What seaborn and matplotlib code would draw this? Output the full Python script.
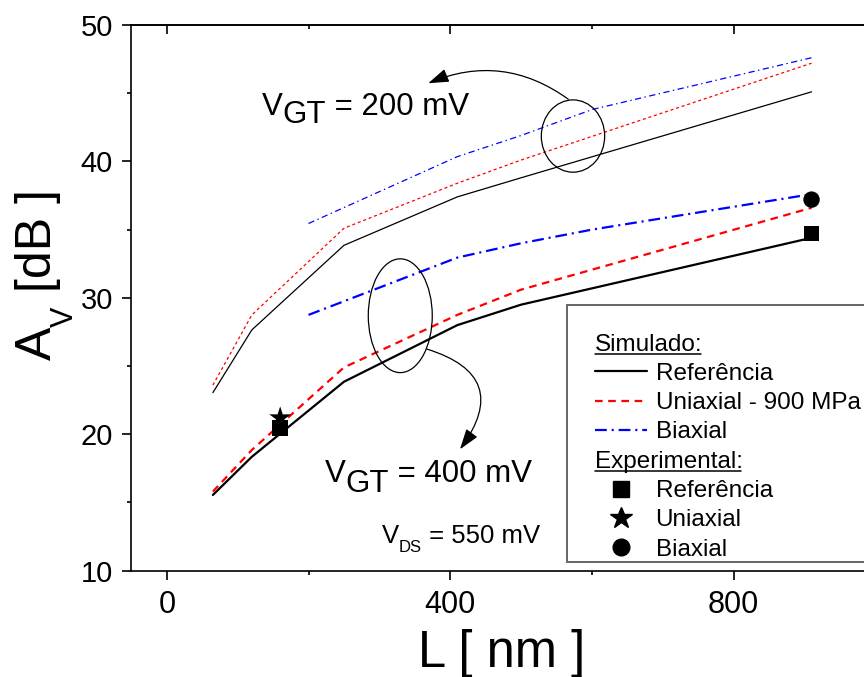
import numpy as np
import pandas as pd
import matplotlib
matplotlib.use("Agg")
import matplotlib.pyplot as plt
import seaborn as sns
from matplotlib.patches import Ellipse, Rectangle
from matplotlib.lines import Line2D
from matplotlib.text import Text
from matplotlib.legend_handler import HandlerBase
from matplotlib.textpath import TextPath
from matplotlib.font_manager import FontProperties

# ---------------- data ----------------
# V_GT = 400 mV (thick lines)
L_ref_400 = [65, 120, 250, 410, 500, 910]
Av_ref_400 = [15.55, 18.35, 23.85, 28.0, 29.5, 34.4]
L_uni_400 = [65, 120, 250, 410, 500, 910]
Av_uni_400 = [15.8, 18.85, 24.9, 28.75, 30.6, 36.6]
L_bi_400 = [200, 410, 500, 600, 910]
Av_bi_400 = [28.75, 32.95, 34.0, 35.0, 37.6]
# V_GT = 200 mV (thin lines)
L_ref_200 = [65, 120, 250, 410, 500, 910]
Av_ref_200 = [23.05, 27.65, 33.85, 37.4, 38.8, 45.1]
L_uni_200 = [65, 120, 250, 410, 500, 910]
Av_uni_200 = [23.6, 28.75, 35.1, 38.4, 40.1, 47.2]
L_bi_200 = [200, 410, 500, 600, 910]
Av_bi_200 = [35.45, 40.35, 41.9, 43.8, 47.6]
# experimental
L_exp_ref = [160, 910]
Av_exp_ref = [20.45, 34.7]
L_exp_uni = [160]
Av_exp_uni = [21.2]
L_exp_bi = [910]
Av_exp_bi = [37.2]

x_ticks = [0, 400, 800]
x_minor = [200, 600]
y_ticks = [10, 20, 30, 40, 50]
y_minor = [15, 25, 35, 45]

# ---------------- style ----------------
sns.set_style("ticks")
FONT = "Liberation Sans"
plt.rcParams["font.family"] = [FONT, "DejaVu Sans"]
plt.rcParams["lines.scale_dashes"] = False
for k in ["text.color", "axes.labelcolor", "xtick.color", "ytick.color",
          "xtick.labelcolor", "ytick.labelcolor", "axes.edgecolor", "legend.labelcolor"]:
    plt.rcParams[k] = "black"

W, H = 864, 677
fig = plt.figure(figsize=(W / 100, H / 100), dpi=100)
ax_l, ax_r, ax_t, ax_b = 131.4, 875.3, 25.0, 570.7
ax = fig.add_axes([ax_l / W, 1 - ax_b / H, (ax_r - ax_l) / W, (ax_b - ax_t) / H])

RED = "#FF0000"
BLUE = "#0000FF"
ls_red_thick = (0, (5.5, 4.0))
ls_blue_thick = (0, (8.5, 3.5, 1.5, 3.5))
ls_red_thin = (0, (2.2, 2.0))
ls_blue_thin = (0, (4.5, 2.5, 1.0, 2.5))

# thin lines (V_GT = 200 mV)
sns.lineplot(x=L_ref_200, y=Av_ref_200, color="black", linewidth=0.9, ax=ax)
sns.lineplot(x=L_uni_200, y=Av_uni_200, color=RED, linewidth=0.9, linestyle=ls_red_thin, ax=ax)
sns.lineplot(x=L_bi_200, y=Av_bi_200, color=BLUE, linewidth=0.9, linestyle=ls_blue_thin, ax=ax)
# thick lines (V_GT = 400 mV)
sns.lineplot(x=L_ref_400, y=Av_ref_400, color="black", linewidth=1.6, ax=ax)
sns.lineplot(x=L_uni_400, y=Av_uni_400, color=RED, linewidth=1.6, linestyle=ls_red_thick, ax=ax)
sns.lineplot(x=L_bi_400, y=Av_bi_400, color=BLUE, linewidth=1.6, linestyle=ls_blue_thick, ax=ax)

# experimental points
sns.scatterplot(x=L_exp_uni, y=Av_exp_uni, marker="*", s=275, color="black", edgecolor="none", ax=ax, zorder=5)
sns.scatterplot(x=L_exp_ref, y=Av_exp_ref, marker="s", s=125, color="black", edgecolor="none", ax=ax, zorder=5)
sns.scatterplot(x=L_exp_bi, y=Av_exp_bi, marker="o", s=140, color="black", edgecolor="none", ax=ax, zorder=5)

# ---------------- axes ----------------
ax.set_xlim(-50, 1000)
ax.set_ylim(10, 50)
ax.set_xticks(x_ticks)
ax.set_xticks(x_minor, minor=True)
ax.set_yticks(y_ticks)
ax.set_yticks(y_minor, minor=True)
ax.set_xlabel("")
ax.set_ylabel("")
for sp in ax.spines.values():
    sp.set_visible(True)
    sp.set_linewidth(1.2)
    sp.set_color("black")
ax.tick_params(axis="y", which="major", direction="out", length=6.7, width=1.2, labelsize=21, pad=6.5,
               colors="black", labelcolor="black")
ax.tick_params(axis="y", which="minor", direction="out", length=3.2, width=1.2, colors="black")
ax.tick_params(axis="x", which="major", direction="out", length=6.7, width=1.2, labelsize=22, pad=7.5,
               colors="black", labelcolor="black")
ax.tick_params(axis="x", which="minor", direction="out", length=3.2, width=1.2, colors="black")
ax.tick_params(top=False, right=False, which="both")

sec = ax.secondary_xaxis("top")
sec.set_xticks(x_ticks)
sec.set_xticks(x_minor, minor=True)
sec.tick_params(axis="x", which="major", direction="in", length=6.7, width=1.2, labeltop=False, colors="black")
sec.tick_params(axis="x", which="minor", direction="in", length=3.2, width=1.2, colors="black")
sec.spines["top"].set_linewidth(1.2)
sec.spines["top"].set_color("black")

# ---------------- axis labels ----------------
fig.text(502 / W, 1 - 667.0 / H, "L [ nm ]", ha="center", va="baseline", fontsize=36.5, color="black")

tA = fig.text(61 / W, 1 - 360 / H, "A", rotation=90, ha="right", va="bottom", fontsize=36, color="black")
tV = ax.annotate("V", xy=(1, 1), xycoords=tA, xytext=(-8, 0), textcoords="offset points",
                 rotation=90, ha="left", va="bottom", fontsize=22, annotation_clip=False, color="black")
ax.annotate(" [dB ]", xy=(1, 1), xycoords=(tA, tV), xytext=(0, 0), textcoords="offset points",
            rotation=90, ha="right", va="bottom", fontsize=36, annotation_clip=False, color="black")

# ---------------- annotations ----------------
def vlabel(x, y, sub, rest, fs, subfs, drop):
    t1 = ax.text(x, y, "V", fontsize=fs, ha="left", va="baseline", color="black")
    t2 = ax.annotate(sub, xy=(1, y), xycoords=(t1, "data"), xytext=(0, -drop),
                     textcoords="offset points", fontsize=subfs, ha="left", va="baseline", color="black")
    ax.annotate(rest, xy=(1, y), xycoords=(t2, "data"), xytext=(0, 0),
                textcoords="offset points", fontsize=fs, ha="left", va="baseline", color="black")

vlabel(134, 43.41, "GT", " = 200 mV", 22.5, 22.5, 6.0)
vlabel(223.1, 16.52, "GT", " = 400 mV", 22.5, 22.5, 7.2)
vlabel(303.3, 12.03, "DS", " = 550 mV", 18.5, 12, 6.3)

ax.add_patch(Ellipse((573.3, 41.86), 89.4, 5.3, fill=False, lw=0.9, ec="black", zorder=6))
ax.add_patch(Ellipse((329.5, 28.69), 90.3, 8.34, fill=False, lw=0.9, ec="black", zorder=6))

ax.annotate("", xy=(369, 45.73), xytext=(566.7, 44.56),
            arrowprops=dict(arrowstyle="-|>,head_length=0.9,head_width=0.3", color="black", lw=0.9,
                            connectionstyle="arc3,rad=0.28", shrinkA=0, shrinkB=0, mutation_scale=14))
ax.annotate("", xy=(413.8, 18.9), xytext=(366.8, 26.25),
            arrowprops=dict(arrowstyle="-|>,head_length=0.9,head_width=0.3", color="black", lw=0.9,
                            connectionstyle="arc3,rad=-0.7", shrinkA=0, shrinkB=0, mutation_scale=14))

# ---------------- legend ----------------
LFS = 17.5

class HeaderHandler(HandlerBase):
    def __init__(self, text, fs):
        super().__init__()
        self.text = text
        self.fs = fs

    def create_artists(self, legend, orig_handle, xdescent, ydescent, width, height, fontsize, trans):
        fp = FontProperties(family=FONT, size=self.fs)
        w = TextPath((0, 0), self.text, prop=fp).get_extents().x1
        t = Text(-xdescent, -ydescent, self.text, fontproperties=fp, ha="left", va="baseline",
                 color="black", transform=trans)
        u = Line2D([-xdescent, -xdescent + w], [-ydescent - 2.3] * 2, color="black", lw=1.1,
                   transform=trans)
        return [t, u]

h_sim = Line2D([], [])
h_exp = Line2D([], [])
handles = [
    h_sim,
    Line2D([], [], color="black", lw=1.6),
    Line2D([], [], color=RED, lw=1.6, linestyle=ls_red_thick),
    Line2D([], [], color=BLUE, lw=1.6, linestyle=ls_blue_thick),
    h_exp,
    Line2D([], [], color="black", marker="s", markersize=11, linestyle="none"),
    Line2D([], [], color="black", marker="*", markersize=16.5, linestyle="none"),
    Line2D([], [], color="black", marker="o", markersize=12, linestyle="none"),
]
labels = ["", "Referência", "Uniaxial - 900 MPa", "Biaxial", "",
          "Referência", "Uniaxial", "Biaxial"]

def fx(px):
    return (px - ax_l) / (ax_r - ax_l)

def fy(py):
    return (ax_b - py) / (ax_b - ax_t)

leg = ax.legend(handles, labels, loc="upper left", bbox_to_anchor=(fx(595), fy(333.5)),
                frameon=False, fontsize=LFS, borderpad=0, borderaxespad=0,
                handlelength=2.15, handletextpad=0.34, labelspacing=0.3,
                labelcolor="black",
                handler_map={h_sim: HeaderHandler("Simulado:", LFS),
                             h_exp: HeaderHandler("Experimental:", LFS)})
leg.set_zorder(8)

ax.add_patch(Rectangle((fx(567), fy(561.7)), 0.6, fy(305) - fy(561.7), transform=ax.transAxes,
                       facecolor="white", edgecolor="#666666", lw=1.4, clip_on=False, zorder=7))

fig.savefig("out.png", dpi=100)
